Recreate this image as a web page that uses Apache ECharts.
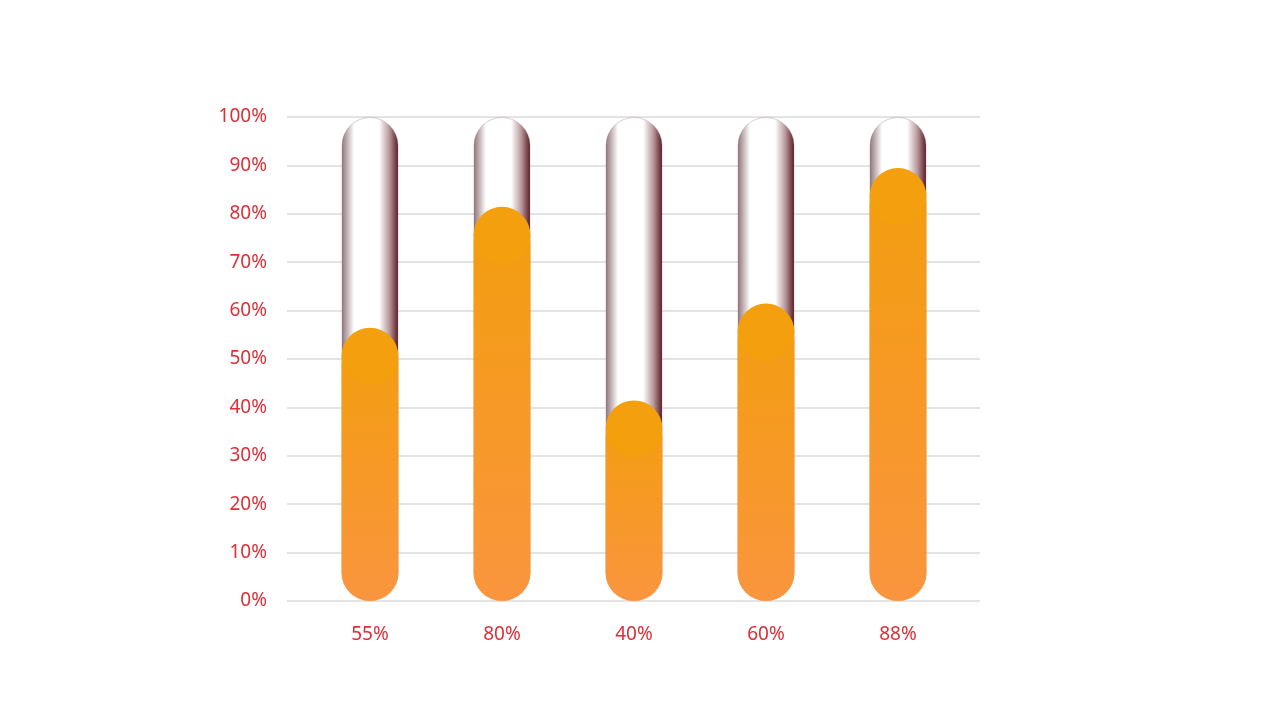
<!DOCTYPE html>
<html>
<head>
<meta charset="utf-8">
<script src="https://cdn.jsdelivr.net/npm/echarts@6/dist/echarts.min.js"></script>
<style>
html,body{margin:0;padding:0;background:#fff;}
#chart{width:1280px;height:720px;}
</style>
</head>
<body>
<div id="chart"></div>
<script>
const categories = ['55%', '80%', '40%', '60%', '88%'];
const values = [55, 80, 40, 60, 88];
const maxValues = [100, 100, 100, 100, 100];
const yMin = 0, yMax = 100, yInterval = 10;

const labelColor = '#dd2f38';
const fontFamily = 'Noto Sans';

const chart = echarts.init(document.getElementById('chart'));
const option = {
  backgroundColor: '#fff',
  animation: false,
  grid: [
    { left: 287, right: 300, top: 117, bottom: 119 },
    { left: 304, right: 316, top: 117, bottom: 119 }
  ],
  xAxis: [
    { type: 'category', gridIndex: 0, data: categories, show: false },
    {
      type: 'category', gridIndex: 1, data: categories,
      axisLine: { show: false }, axisTick: { show: false },
      axisLabel: { color: labelColor, fontSize: 19, fontFamily: fontFamily, margin: 24 }
    }
  ],
  yAxis: [
    {
      type: 'value', gridIndex: 0, min: yMin, max: yMax, interval: yInterval,
      axisLine: { show: false }, axisTick: { show: false },
      axisLabel: { color: labelColor, fontSize: 19, fontFamily: fontFamily, margin: 20, padding: [3, 0, 0, 0], formatter: '{value}%' },
      splitLine: { lineStyle: { color: '#e3e3e3', width: 2 } }
    },
    { type: 'value', gridIndex: 1, min: yMin, max: yMax, show: false }
  ],
  series: [
    {
      type: 'bar', xAxisIndex: 1, yAxisIndex: 1, data: maxValues,
      barWidth: 57, barGap: '-100%', z: 2, silent: true,
      itemStyle: {
        borderRadius: 28.5,
        borderColor: 'rgba(140,100,105,0.3)', borderWidth: 1,
        color: new echarts.graphic.LinearGradient(0, 0, 1, 0, [
          { offset: 0, color: '#8e7276' },
          { offset: 0.22, color: '#ffffff' },
          { offset: 0.66, color: '#ffffff' },
          { offset: 0.84, color: '#b8979a' },
          { offset: 1, color: '#561820' }
        ])
      }
    },
    {
      type: 'bar', xAxisIndex: 1, yAxisIndex: 1, data: values,
      barWidth: 57, barGap: '-100%', z: 3,
      itemStyle: {
        borderRadius: 28.5,
        color: new echarts.graphic.LinearGradient(0, 0, 0, 1, [
          { offset: 0, color: '#f39e0e' },
          { offset: 1, color: '#fa953e' }
        ])
      }
    },
    {
      type: 'pictorialBar', xAxisIndex: 1, yAxisIndex: 1, data: values,
      symbol: 'circle', symbolSize: [57, 57], symbolPosition: 'end', symbolOffset: [0, -7],
      z: 4, itemStyle: { color: '#f39f0e' }
    }
  ]
};
chart.setOption(option);
</script>
</body>
</html>
